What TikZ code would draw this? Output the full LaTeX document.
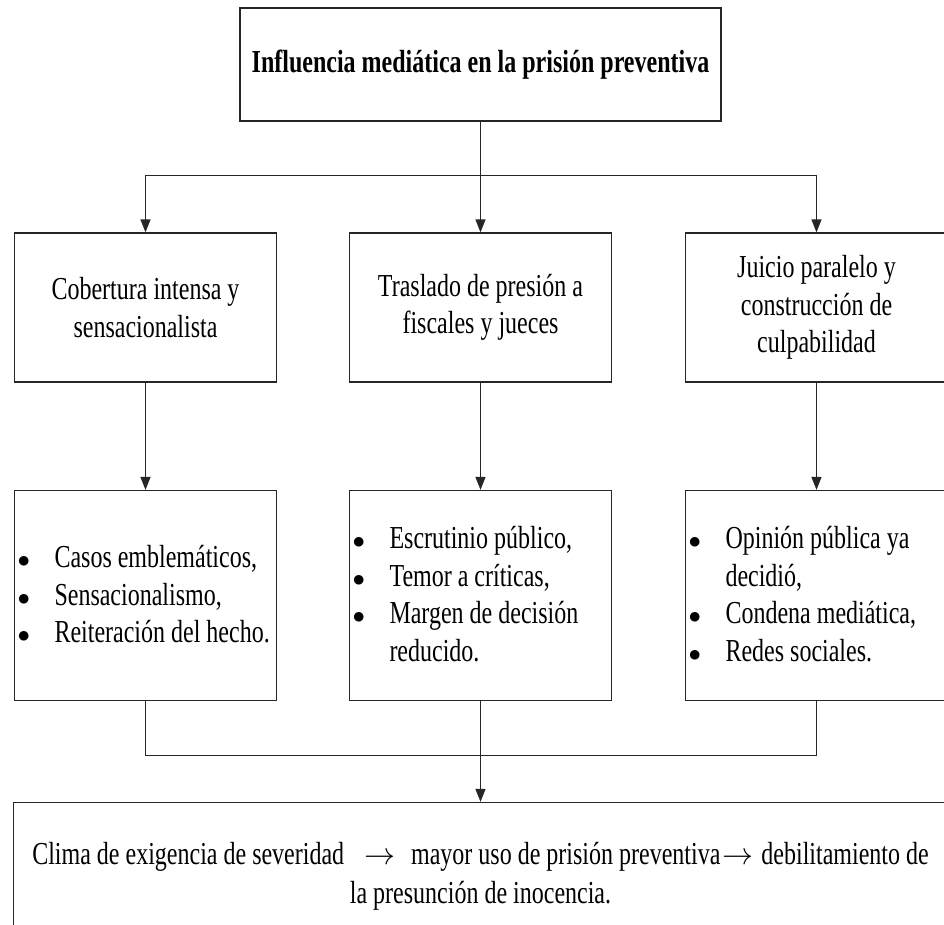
\documentclass[tikz,border=0pt]{standalone}
\usepackage{fontspec}
\usepackage{graphicx}
\setmainfont{Liberation Serif}[FakeStretch=0.75]
\usetikzlibrary{arrows.meta}

\newcommand{\bul}{\par\hangindent=37pt\hangafter=1\noindent\makebox[37pt][l]{$\bullet$}}
\newcommand{\arr}{\resizebox{31pt}{!}{$\rightarrow$}}

\begin{document}
\begin{tikzpicture}[>={Triangle[length=13pt,width=10pt]}, line width=1.3pt, draw=black!85,
  font=\fontsize{32}{37.5}\selectfont,
  main/.style = {draw, rectangle, minimum width=262pt, minimum height=149pt, text width=252pt, inner sep=5pt, align=flush center},
  list/.style = {main, minimum height=210pt, text width=256pt, inner xsep=3pt, align=flush left, execute at begin node={\vspace*{-18pt}}}]
\useasboundingbox (0,0) rectangle (944pt,-924pt);
\clip (0,0) rectangle (944pt,-924pt);

\node[main, minimum width=481pt, minimum height=113pt, text width=471pt] (top) at (480.5pt,-64.5pt) {\textbf{Influencia mediática en la prisión preventiva}};
\node[main] (mid1) [below of=top, node distance=243pt] {Traslado de presión a\\fiscales y jueces};
\node[main] (left1) [left of=mid1, node distance=335pt] {Cobertura intensa y\\sensacionalista};
\node[main] (right1) [right of=mid1, node distance=336pt] {Juicio paralelo y\\construcción de\\culpabilidad};
\node[list] (left2) [below of=left1, node distance=288pt] {\bul Casos emblemáticos, \bul Sensacionalismo, \bul Reiteración del hecho.\par};
\node[list] (mid2) [below of=mid1, node distance=288pt] {\bul Escrutinio público, \bul Temor a críticas, \bul Margen de decisión reducido.\par};
\node[list] (right2) [below of=right1, node distance=288pt] {\bul Opinión pública ya decidió, \bul Condena mediática, \bul Redes sociales.\par};
\node[main, minimum width=934pt, minimum height=148pt, text width=924pt] (end) [below of=mid2, node distance=281pt] {Clima de exigencia de severidad\hspace{20pt}\arr\hspace{16pt}mayor uso de prisión preventiva\hspace{2pt}\arr\hspace{8pt}debilitamiento de\\[2pt]la presunción de inocencia.};

\coordinate[below of=top, node distance=111pt] (split);
\coordinate[below of=mid2, node distance=160pt] (merge);

\draw[->] (top) -- (mid1);
\draw[->] (split) -| (left1);
\draw[->] (split) -| (right1);
\draw[->] (left1) -- (left2);
\draw[->] (mid1) -- (mid2);
\draw[->] (right1) -- (right2);
\draw (left2) |- (merge);
\draw (right2) |- (merge);
\draw[->] (mid2.south) -- (mid2.south |- end.north);
\end{tikzpicture}
\end{document}
